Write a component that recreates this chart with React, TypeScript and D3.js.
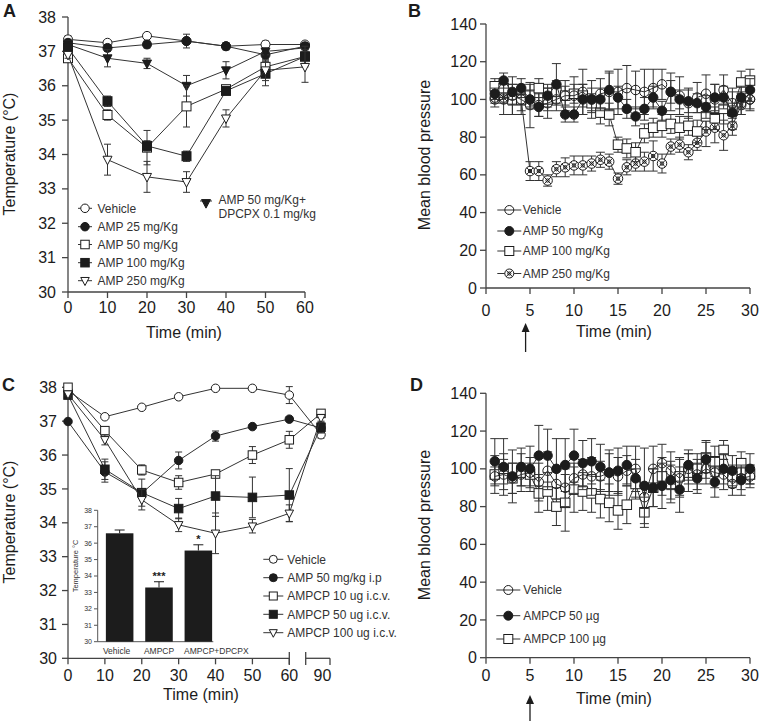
import React from 'react';
import * as d3 from 'd3';

const FONT = "'Liberation Sans', Arial, Helvetica, sans-serif";
const INK = '#1c1c1c';

// ---------- Panel A data ----------
const timeA = [0, 10, 20, 30, 40, 50, 60];
const aVehicle = [37.35, 37.25, 37.45, 37.3, 37.15, 37.2, 37.2];
const aVehicleErr = [0.1, 0.05, 0.05, 0.1, 0.1, 0.1, 0.05];
const aAmp25 = [37.25, 37.1, 37.2, 37.3, 37.15, 36.9, 37.15];
const aAmp25Err = [0.1, 0.1, 0.1, 0.2, 0.1, 0.1, 0.1];
const aDpcpx = [37.2, 36.8, 36.65, 36.0, 36.45, 37.0, 37.1];
const aDpcpxErr = [0.1, 0.25, 0.15, 0.3, 0.25, 0.1, 0.1];
const aAmp50 = [36.8, 35.15, 34.2, 35.4, 35.9, 36.55, 36.85];
const aAmp50Err = [0.1, 0.15, 0.5, 0.6, 0.1, 0.2, 0.3];
const aAmp100 = [37.1, 35.55, 34.25, 33.95, 35.85, 36.35, 36.85];
const aAmp100Err = [0.1, 0.15, 0.15, 0.15, 0.1, 0.35, 0.2];
const aAmp250 = [36.9, 33.85, 33.35, 33.2, 35.05, 36.45, 36.55];
const aAmp250Err = [0.1, 0.45, 0.45, 0.3, 0.25, 0.3, 0.45];
const aYTicks = [30, 31, 32, 33, 34, 35, 36, 37, 38];
const aXTicks = [0, 10, 20, 30, 40, 50, 60];

// ---------- Panel B data ----------
const timeB = [1, 2, 3, 4, 5, 6, 7, 8, 9, 10, 11, 12, 13, 14, 15, 16, 17, 18, 19, 20, 21, 22, 23, 24, 25, 26, 27, 28, 29, 30];
const bVehicle = [100, 100, 102, 100, 97, 97, 98, 100, 102, 102, 104, 100, 103, 104, 104, 106, 105, 104, 106, 108, 104, 102, 98, 101, 103, 100, 105, 98, 98, 100];
const bVehicleErr = [4, 8, 10, 8, 12, 6, 8, 6, 8, 10, 12, 10, 8, 10, 12, 12, 10, 12, 10, 8, 10, 10, 8, 8, 10, 8, 8, 8, 6, 6];
const bAmp50 = [103, 110, 104, 106, 100, 96, 102, 108, 92, 92, 100, 100, 100, 105, 101, 95, 91, 95, 101, 94, 104, 100, 99, 98, 96, 101, 101, 93, 101, 105];
const bAmp50Err = [3, 4, 4, 5, 5, 5, 6, 11, 4, 4, 8, 6, 6, 10, 6, 5, 5, 6, 6, 5, 6, 5, 6, 5, 6, 7, 6, 5, 6, 6];
const bAmp100 = [107, 106, 100, 100, 102, 106, 100, 104, 102, 103, 102, 98, 93, 92, 76, 74, 72, 82, 85, 86, 87, 85, 86, 83, 91, 90, 95, 94, 109, 110];
const bAmp100Err = [4, 5, 8, 6, 6, 5, 6, 6, 5, 5, 6, 5, 6, 6, 4, 5, 5, 5, 5, 6, 5, 6, 5, 6, 7, 6, 8, 10, 6, 6];
const bAmp250 = [101, 101, 100, 100, 62, 62, 57, 63, 64, 65, 65, 66, 68, 67, 58, 64, 66, 67, 70, 66, 75, 76, 72, 77, 83, 85, 81, 86, 97, 100];
const bAmp250Err = [3, 3, 3, 3, 5, 5, 3, 4, 5, 5, 5, 4, 4, 4, 3, 4, 4, 5, 8, 5, 4, 4, 4, 4, 8, 8, 8, 5, 5, 5];
const bpYTicks = [0, 20, 40, 60, 80, 100, 120, 140];
const bpXTicks = [0, 5, 10, 15, 20, 25, 30];

// ---------- Panel C data ----------
const timeC = [0, 10, 20, 30, 40, 50, 60, 90];
const cVehicle = [37.9, 37.13, 37.41, 37.72, 37.97, 37.97, 37.77, 36.6];
const cVehicleErr = [0.05, 0.05, 0.05, 0.05, 0.05, 0.05, 0.25, 0.1];
const cAmp50 = [36.99, 35.5, 34.87, 35.84, 36.56, 36.84, 37.06, 36.8];
const cAmp50Err = [0.05, 0.3, 0.1, 0.25, 0.15, 0.05, 0.05, 0.15];
const cAmpcp10 = [38.0, 36.72, 35.56, 35.19, 35.44, 36.0, 36.45, 37.23];
const cAmpcp10Err = [0.05, 0.1, 0.15, 0.2, 0.05, 0.25, 0.25, 0.1];
const cAmpcp50 = [37.77, 35.58, 34.89, 34.42, 34.79, 34.75, 34.82, 36.82];
const cAmpcp50Err = [0.05, 0.3, 0.4, 0.3, 0.6, 0.6, 0.78, 0.15];
const cAmpcp100 = [37.8, 36.45, 34.68, 33.94, 33.69, 33.9, 34.28, 37.1];
const cAmpcp100Err = [0.05, 0.15, 0.3, 0.2, 0.6, 0.2, 0.25, 0.1];
const cYTicks = [30, 31, 32, 33, 34, 35, 36, 37, 38];
const cXTicks = [0, 10, 20, 30, 40, 50, 60, 90];

// inset bar chart
const insetCats = ['Vehicle', 'AMPCP', 'AMPCP+DPCPX'];
const insetVals = [36.6, 33.3, 35.55];
const insetErr = [0.2, 0.35, 0.35];
const insetStars = ['', '***', '*'];
const insetYTicks = [30, 31, 32, 33, 34, 35, 36, 37, 38];

// ---------- Panel D data ----------
const timeD = [1, 2, 3, 4, 5, 6, 7, 8, 9, 10, 11, 12, 13, 14, 15, 16, 17, 18, 19, 20, 21, 22, 23, 24, 25, 26, 27, 28, 29, 30];
const dVehicle = [96, 97, 95, 97, 98, 93, 99, 92, 90, 95, 97, 96, 96, 98, 96, 99, 100, 85, 100, 103, 99, 95, 100, 97, 100, 98, 97, 92, 95, 96];
const dVehicleErr = [5, 8, 8, 6, 8, 10, 10, 8, 10, 8, 8, 10, 8, 10, 10, 8, 12, 6, 12, 10, 10, 10, 8, 8, 8, 8, 8, 6, 6, 6];
const dAmpcp50 = [104, 101, 96, 101, 100, 107, 107, 100, 102, 107, 103, 104, 101, 98, 99, 102, 95, 91, 90, 91, 94, 89, 102, 95, 105, 93, 100, 99, 94, 100];
const dAmpcp50Err = [12, 15, 14, 10, 12, 16, 14, 16, 14, 14, 12, 12, 12, 12, 12, 10, 10, 20, 10, 12, 10, 12, 8, 8, 10, 8, 8, 8, 8, 8];
const dAmpcp100 = [97, 100, 95, 98, 97, 87, 88, 80, 82, 89, 88, 87, 84, 82, 78, 81, 92, 77, 90, 96, 92, 96, 98, 100, 106, 104, 110, 96, 103, 97];
const dAmpcp100Err = [10, 8, 8, 10, 6, 10, 10, 10, 15, 12, 10, 10, 10, 10, 10, 10, 8, 8, 10, 10, 10, 10, 10, 8, 8, 8, 5, 6, 6, 5];

type MarkerType = 'circleOpen' | 'circleFilled' | 'circleHollow' | 'circleCross' | 'squareOpen' | 'squareFilled' | 'triOpen' | 'triFilled';

interface Series {
  name: string;
  times: number[];
  values: number[];
  err: number[];
  marker: MarkerType;
}

function Marker({ type, x, y, s }: { type: MarkerType; x: number; y: number; s: number }) {
  const r = s / 2;
  const sw = 1;
  switch (type) {
    case 'circleOpen':
      return <circle cx={x} cy={y} r={r} fill="#fff" stroke={INK} strokeWidth={sw} />;
    case 'circleHollow':
      return <circle cx={x} cy={y} r={r} fill="none" stroke={INK} strokeWidth={sw} />;
    case 'circleFilled':
      return <circle cx={x} cy={y} r={r} fill={INK} stroke={INK} strokeWidth={sw} />;
    case 'circleCross': {
      const d = r * 0.72;
      return (
        <g stroke={INK} strokeWidth={sw}>
          <circle cx={x} cy={y} r={r} fill="#fff" />
          <line x1={x - d} y1={y - d} x2={x + d} y2={y + d} />
          <line x1={x - d} y1={y + d} x2={x + d} y2={y - d} />
          <circle cx={x} cy={y} r={r * 0.35} fill="none" />
        </g>
      );
    }
    case 'squareOpen':
      return <rect x={x - r} y={y - r} width={s} height={s} fill="#fff" stroke={INK} strokeWidth={sw} />;
    case 'squareFilled':
      return <rect x={x - r} y={y - r} width={s} height={s} fill={INK} stroke={INK} strokeWidth={sw} />;
    case 'triOpen':
    case 'triFilled': {
      const h = s * 0.95;
      const pts = `${x - r},${y - h * 0.4} ${x + r},${y - h * 0.4} ${x},${y + h * 0.6}`;
      return <polygon points={pts} fill={type === 'triFilled' ? INK : '#fff'} stroke={INK} strokeWidth={sw} strokeLinejoin="miter" />;
    }
  }
  return null;
}

function SeriesLayer({ series, xs, ys, size, cap }: { series: Series[]; xs: (v: number) => number; ys: (v: number) => number; size: number; cap: number }) {
  return (
    <g>
      {series.map((s, si) => {
        const pts: [number, number][] = s.values.map((v, i) => [xs(s.times[i]), ys(v)]);
        const path = d3.line().x((p) => p[0]).y((p) => p[1])(pts) || '';
        return (
          <g key={si}>
            <path d={path} fill="none" stroke="#333" strokeWidth={1} />
            <g stroke="#333" strokeWidth={1}>
              {s.values.map((v, i) => {
                const x = xs(s.times[i]);
                const y1 = ys(v + s.err[i]);
                const y2 = ys(v - s.err[i]);
                return (
                  <g key={i}>
                    <line x1={x} x2={x} y1={y1} y2={y2} />
                    <line x1={x - cap / 2} x2={x + cap / 2} y1={y1} y2={y1} />
                    <line x1={x - cap / 2} x2={x + cap / 2} y1={y2} y2={y2} />
                  </g>
                );
              })}
            </g>
            {s.values.map((v, i) => (
              <Marker key={i} type={s.marker} x={xs(s.times[i])} y={ys(v)} s={size} />
            ))}
          </g>
        );
      })}
    </g>
  );
}

function YAxis({ x, ys, ticks, labelX, fontSize = 16, tick = 6 }: { x: number; ys: d3.ScaleLinear<number, number>; ticks: number[]; labelX: number; fontSize?: number; tick?: number }) {
  const r = ys.range();
  return (
    <g>
      <line x1={x} x2={x} y1={r[0]} y2={r[1]} stroke="#444" strokeWidth={1.3} />
      {ticks.map((t) => (
        <g key={t}>
          <line x1={x - tick} x2={x} y1={ys(t)} y2={ys(t)} stroke="#444" strokeWidth={1.3} />
          <text x={labelX} y={ys(t)} dy="0.35em" textAnchor="end" fontSize={fontSize} fontFamily={FONT} fill={INK}>
            {t}
          </text>
        </g>
      ))}
    </g>
  );
}

function XAxis({ y, xs, ticks, labelY, x0, x1 }: { y: number; xs: (v: number) => number; ticks: number[]; labelY: number; x0: number; x1: number }) {
  return (
    <g>
      <line x1={x0} x2={x1} y1={y} y2={y} stroke="#444" strokeWidth={1.3} />
      {ticks.map((t) => (
        <g key={t}>
          <line x1={xs(t)} x2={xs(t)} y1={y} y2={y + 6} stroke="#444" strokeWidth={1.3} />
          <text x={xs(t)} y={labelY} textAnchor="middle" fontSize={16} fontFamily={FONT} fill={INK}>
            {t}
          </text>
        </g>
      ))}
    </g>
  );
}

function LegendRow({ x, y, tx, marker, size, label, half = 11, fontSize = 12 }: { x: number; y: number; tx: number; marker: MarkerType; size: number; label: string; half?: number; fontSize?: number }) {
  return (
    <g>
      <line x1={x - half} x2={x + half} y1={y} y2={y} stroke="#333" strokeWidth={1} />
      <Marker type={marker} x={x} y={y} s={size} />
      <text x={tx} y={y} dy="0.35em" fontSize={fontSize} fontFamily={FONT} fill="#333">
        {label}
      </text>
    </g>
  );
}

function Arrow({ x, y0, y1 }: { x: number; y0: number; y1: number }) {
  return (
    <g>
      <line x1={x} x2={x} y1={y0 + 6} y2={y1} stroke={INK} strokeWidth={1.3} />
      <polygon points={`${x - 4},${y0 + 9} ${x + 4},${y0 + 9} ${x},${y0}`} fill={INK} />
    </g>
  );
}

export default function App() {
  // ---- Panel A ----
  const xA = d3.scaleLinear().domain([0, 60]).range([68, 305]);
  const yA = d3.scaleLinear().domain([30, 38]).range([292, 17]);
  const seriesA: Series[] = [
    { name: 'Vehicle', times: timeA, values: aVehicle, err: aVehicleErr, marker: 'circleOpen' },
    { name: 'AMP 25 mg/Kg', times: timeA, values: aAmp25, err: aAmp25Err, marker: 'circleFilled' },
    { name: 'AMP 50 mg/Kg+DPCPX', times: timeA, values: aDpcpx, err: aDpcpxErr, marker: 'triFilled' },
    { name: 'AMP 50 mg/Kg', times: timeA, values: aAmp50, err: aAmp50Err, marker: 'squareOpen' },
    { name: 'AMP 100 mg/Kg', times: timeA, values: aAmp100, err: aAmp100Err, marker: 'squareFilled' },
    { name: 'AMP 250 mg/Kg', times: timeA, values: aAmp250, err: aAmp250Err, marker: 'triOpen' },
  ];

  // ---- Panel B ----
  const xB = d3.scaleLinear().domain([0, 30]).range([486, 750]);
  const yB = d3.scaleLinear().domain([0, 140]).range([288, 24]);
  const seriesB: Series[] = [
    { name: 'AMP 250 mg/Kg', times: timeB, values: bAmp250, err: bAmp250Err, marker: 'circleCross' },
    { name: 'AMP 100 mg/Kg', times: timeB, values: bAmp100, err: bAmp100Err, marker: 'squareOpen' },
    { name: 'Vehicle', times: timeB, values: bVehicle, err: bVehicleErr, marker: 'circleHollow' },
    { name: 'AMP 50 mg/Kg', times: timeB, values: bAmp50, err: bAmp50Err, marker: 'circleFilled' },
  ];

  // ---- Panel C ----
  const xC = d3.scaleLinear().domain([0, 60, 90]).range([68, 289.3, 321]);
  const yC = d3.scaleLinear().domain([30, 38]).range([658.3, 387.3]);
  const seriesC: Series[] = [
    { name: 'Vehicle', times: timeC, values: cVehicle, err: cVehicleErr, marker: 'circleOpen' },
    { name: 'AMP 50 mg/kg i.p', times: timeC, values: cAmp50, err: cAmp50Err, marker: 'circleFilled' },
    { name: 'AMPCP 10 ug i.c.v.', times: timeC, values: cAmpcp10, err: cAmpcp10Err, marker: 'squareOpen' },
    { name: 'AMPCP 50 ug i.c.v.', times: timeC, values: cAmpcp50, err: cAmpcp50Err, marker: 'squareFilled' },
    { name: 'AMPCP 100 ug i.c.v.', times: timeC, values: cAmpcp100, err: cAmpcp100Err, marker: 'triOpen' },
  ];
  const xI = d3.scaleBand().domain(insetCats).range([98, 220]).paddingInner(0.3).paddingOuter(0.2);
  const yI = d3.scaleLinear().domain([30, 38]).range([641.7, 510.3]);
  const insetLabelDx = [-3, 0, 18];

  // ---- Panel D ----
  const xD = d3.scaleLinear().domain([0, 30]).range([486, 750]);
  const yD = d3.scaleLinear().domain([0, 140]).range([657.7, 393.3]);
  const seriesD: Series[] = [
    { name: 'AMPCP 100 µg', times: timeD, values: dAmpcp100, err: dAmpcp100Err, marker: 'squareOpen' },
    { name: 'Vehicle', times: timeD, values: dVehicle, err: dVehicleErr, marker: 'circleHollow' },
    { name: 'AMPCP 50 µg', times: timeD, values: dAmpcp50, err: dAmpcp50Err, marker: 'circleFilled' },
  ];

  const legA = [
    { y: 208.3, m: 'circleOpen' as MarkerType, l: 'Vehicle' },
    { y: 226.7, m: 'circleFilled' as MarkerType, l: 'AMP 25 mg/Kg' },
    { y: 244.5, m: 'squareOpen' as MarkerType, l: 'AMP 50 mg/Kg' },
    { y: 262.7, m: 'squareFilled' as MarkerType, l: 'AMP 100 mg/Kg' },
    { y: 280.7, m: 'triOpen' as MarkerType, l: 'AMP 250 mg/Kg' },
  ];
  const legB = [
    { y: 210, m: 'circleHollow' as MarkerType, l: 'Vehicle' },
    { y: 231, m: 'circleFilled' as MarkerType, l: 'AMP 50 mg/Kg' },
    { y: 251, m: 'squareOpen' as MarkerType, l: 'AMP 100 mg/Kg' },
    { y: 273.5, m: 'circleCross' as MarkerType, l: 'AMP 250 mg/Kg' },
  ];
  const legC = [
    { y: 559.3, m: 'circleOpen' as MarkerType, l: 'Vehicle' },
    { y: 577.7, m: 'circleFilled' as MarkerType, l: 'AMP 50 mg/kg i.p' },
    { y: 596, m: 'squareOpen' as MarkerType, l: 'AMPCP 10 ug i.c.v.' },
    { y: 614.3, m: 'squareFilled' as MarkerType, l: 'AMPCP 50 ug i.c.v.' },
    { y: 632.7, m: 'triOpen' as MarkerType, l: 'AMPCP 100 ug i.c.v.' },
  ];
  const legD = [
    { y: 590, m: 'circleHollow' as MarkerType, l: 'Vehicle' },
    { y: 615.7, m: 'circleFilled' as MarkerType, l: 'AMPCP 50 µg' },
    { y: 639, m: 'squareOpen' as MarkerType, l: 'AMPCP 100 µg' },
  ];

  const panelLabel = (t: string, x: number, y: number) => (
    <text x={x} y={y} fontSize={18} fontWeight="bold" fontFamily={FONT} fill={INK}>
      {t}
    </text>
  );

  return (
    <svg width={759} height={721} viewBox="0 0 759 721" style={{ position: 'absolute', left: 0, top: 0, background: '#fff' }}>
      <rect x={0} y={0} width={759} height={721} fill="#fff" />

      {/* ---------------- Panel A ---------------- */}
      {panelLabel('A', 3, 17)}
      <YAxis x={68} ys={yA} ticks={aYTicks} labelX={56} />
      <XAxis y={292} xs={xA} ticks={aXTicks} labelY={312.5} x0={68} x1={305} />
      <text transform="translate(15,154) rotate(-90)" textAnchor="middle" fontSize={16} fontFamily={FONT} fill={INK}>
        Temperature (°C)
      </text>
      <text x={184} y={338} textAnchor="middle" fontSize={16} fontFamily={FONT} fill={INK}>
        Time (min)
      </text>
      <SeriesLayer series={seriesA} xs={xA} ys={yA} size={9} cap={7} />
      {legA.map((d, i) => (
        <LegendRow key={i} x={85} y={d.y} tx={97.5} marker={d.m} size={8.5} label={d.l} half={7} />
      ))}
      <line x1={200} x2={212} y1={201} y2={201} stroke="#333" />
      <Marker type="triFilled" x={206} y={203} s={9} />
      <text x={218.5} y={199.3} dy="0.35em" fontSize={12} fontFamily={FONT} fill="#333">AMP 50 mg/Kg+</text>
      <text x={218.5} y={213.3} dy="0.35em" fontSize={12} fontFamily={FONT} fill="#333">DPCPX 0.1 mg/kg</text>

      {/* ---------------- Panel B ---------------- */}
      {panelLabel('B', 408, 17)}
      <YAxis x={486} ys={yB} ticks={bpYTicks} labelX={477} />
      <XAxis y={288} xs={xB} ticks={bpXTicks} labelY={315.5} x0={486} x1={750} />
      <text transform="translate(430,155) rotate(-90)" textAnchor="middle" fontSize={16} fontFamily={FONT} fill={INK}>
        Mean blood pressure
      </text>
      <text x={614} y={337} textAnchor="middle" fontSize={16} fontFamily={FONT} fill={INK}>
        Time (min)
      </text>
      <SeriesLayer series={seriesB} xs={xB} ys={yB} size={9.5} cap={9} />
      {legB.map((d, i) => (
        <LegendRow key={i} x={509.3} y={d.y} tx={522.7} marker={d.m} size={9} label={d.l} half={12} />
      ))}
      <Arrow x={xB(4.5)} y0={323} y1={352} />

      {/* ---------------- Panel C ---------------- */}
      {panelLabel('C', 2, 391)}
      <YAxis x={68} ys={yC} ticks={cYTicks} labelX={57} />
      {/* broken x axis */}
      <g>
        <XAxis y={658.3} xs={xC} ticks={cXTicks.filter((t) => t <= 60)} labelY={681} x0={68} x1={289.3} />
        <line x1={289.3} x2={289.3} y1={652} y2={665} stroke="#444" strokeWidth={1.3} />
        <line x1={305.7} x2={330} y1={658.3} y2={658.3} stroke="#444" strokeWidth={1.3} />
        <line x1={305.7} x2={305.7} y1={652} y2={665} stroke="#444" strokeWidth={1.3} />
        <line x1={330} x2={330} y1={658.3} y2={665} stroke="#444" strokeWidth={1.3} />
        {cXTicks
          .filter((t) => t > 60)
          .map((t) => (
            <text key={t} x={xC(t) + 1.5} y={681} textAnchor="middle" fontSize={16} fontFamily={FONT} fill={INK}>
              {t}
            </text>
          ))}
      </g>
      <text transform="translate(15,522) rotate(-90)" textAnchor="middle" fontSize={16} fontFamily={FONT} fill={INK}>
        Temperature (°C)
      </text>
      <text x={201} y={700} textAnchor="middle" fontSize={16} fontFamily={FONT} fill={INK}>
        Time (min)
      </text>
      <SeriesLayer series={seriesC} xs={xC} ys={yC} size={8.5} cap={7} />
      {legC.map((d, i) => (
        <LegendRow key={i} x={273.3} y={d.y} tx={287.3} marker={d.m} size={8} label={d.l} half={10} />
      ))}

      {/* inset */}
      <g>
        <line x1={97.7} x2={97.7} y1={yI(30)} y2={yI(38)} stroke="#555" strokeWidth={1} />
        <line x1={97.7} x2={213.3} y1={yI(30)} y2={yI(30)} stroke="#555" strokeWidth={1} />
        {insetYTicks.map((t) => (
          <g key={t}>
            <line x1={94} x2={97.7} y1={yI(t)} y2={yI(t)} stroke="#555" strokeWidth={1} />
            <text x={92} y={yI(t)} dy="0.35em" textAnchor="end" fontSize={7} fontFamily={FONT} fill="#333">
              {t}
            </text>
          </g>
        ))}
        <text transform="translate(78,566) rotate(-90)" textAnchor="middle" fontSize={7.5} fontFamily={FONT} fill="#333">
          Temperature °C
        </text>
        {insetCats.map((c, i) => {
          const x0 = xI(c) as number;
          const bw = xI.bandwidth();
          const cx = x0 + bw / 2;
          const top = yI(insetVals[i]);
          const et = yI(insetVals[i] + insetErr[i]);
          return (
            <g key={c}>
              <line x1={cx} x2={cx} y1={top} y2={et} stroke={INK} strokeWidth={1} />
              <line x1={cx - 5} x2={cx + 5} y1={et} y2={et} stroke={INK} strokeWidth={1} />
              <rect x={x0} y={top} width={bw} height={yI(30) - top} fill={INK} />
              {insetStars[i] && (
                <text x={cx} y={et - 2} textAnchor="middle" fontSize={11} fontWeight="bold" fontFamily={FONT} fill={INK}>
                  {insetStars[i]}
                </text>
              )}
              <text x={cx + insetLabelDx[i]} y={654} textAnchor="middle" fontSize={8.5} fontFamily={FONT} fill="#333">
                {c}
              </text>
            </g>
          );
        })}
      </g>

      {/* ---------------- Panel D ---------------- */}
      {panelLabel('D', 410, 391)}
      <YAxis x={486} ys={yD} ticks={bpYTicks} labelX={477} />
      <XAxis y={657.7} xs={xD} ticks={bpXTicks} labelY={680.5} x0={486} x1={750} />
      <text transform="translate(430,525) rotate(-90)" textAnchor="middle" fontSize={16} fontFamily={FONT} fill={INK}>
        Mean blood pressure
      </text>
      <text x={614} y={704} textAnchor="middle" fontSize={16} fontFamily={FONT} fill={INK}>
        Time (min)
      </text>
      <SeriesLayer series={seriesD} xs={xD} ys={yD} size={9.5} cap={9} />
      {legD.map((d, i) => (
        <LegendRow key={i} x={508.3} y={d.y} tx={523.3} marker={d.m} size={9} label={d.l} half={12} />
      ))}
      <Arrow x={xD(5)} y0={695} y1={722} />
    </svg>
  );
}
